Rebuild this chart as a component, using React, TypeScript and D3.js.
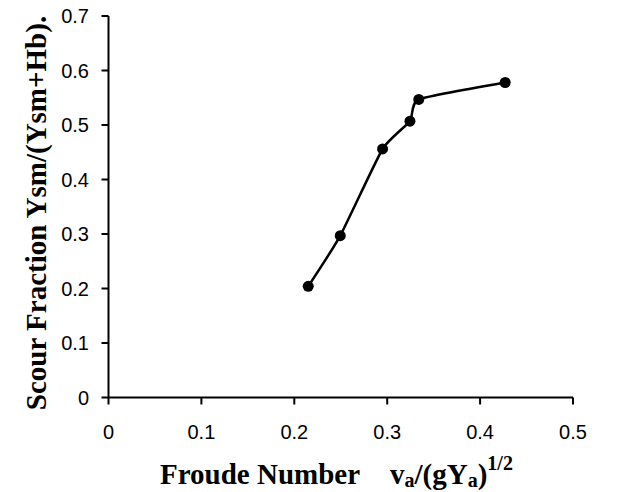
import React from 'react';
import * as d3 from 'd3';

const froude = [0.215, 0.2495, 0.295, 0.3245, 0.334, 0.427];
const scourFraction = [0.204, 0.297, 0.456, 0.507, 0.547, 0.578];
const xTicks = [0, 0.1, 0.2, 0.3, 0.4, 0.5];
const yTicks = [0, 0.1, 0.2, 0.3, 0.4, 0.5, 0.6, 0.7];

const W = 623;
const H = 492;

const App: React.FC = () => {
  const x = d3.scaleLinear().domain([0, 0.5]).range([108.5, 573]);
  const y = d3.scaleLinear().domain([0, 0.7]).range([397.5, 16]);

  const pts = froude.map((f, i) => [x(f), y(scourFraction[i])] as [number, number]);
  // smoothed line like the spreadsheet original
  const line = d3.line().curve(d3.curveCardinal.tension(0.5))(pts) || '';

  const tickFont = '"Liberation Sans", Arial, sans-serif';
  const titleFont = '"Liberation Serif", "Times New Roman", serif';

  return (
    <svg width={W} height={H} style={{ position: 'absolute', left: 0, top: 0, background: '#fff' }}>
      {/* axes */}
      <line x1={x(0)} x2={x(0)} y1={y(0.7)} y2={y(0)} stroke="#000" strokeWidth={2} />
      <line x1={x(0)} x2={x(0.5)} y1={y(0)} y2={y(0)} stroke="#000" strokeWidth={2} />
      {yTicks.map(t => (
        <g key={'y' + t}>
          <line x1={x(0) - 7} x2={x(0)} y1={y(t)} y2={y(t)} stroke="#000" strokeWidth={2} />
          <text x={89} y={y(t)} dy="0.36em" textAnchor="end" fontFamily={tickFont} fontSize={20}>
            {t === 0 ? '0' : t.toFixed(1)}
          </text>
        </g>
      ))}
      {xTicks.map(t => (
        <g key={'x' + t}>
          <line x1={x(t)} x2={x(t)} y1={y(0)} y2={y(0) + 7} stroke="#000" strokeWidth={2} />
          <text x={x(t)} y={439} textAnchor="middle" fontFamily={tickFont} fontSize={20}>
            {t === 0 ? '0' : t.toFixed(1)}
          </text>
        </g>
      ))}

      {/* series */}
      <path d={line} fill="none" stroke="#000" strokeWidth={2.5} />
      {pts.map((p, i) => (
        <circle key={i} cx={p[0]} cy={p[1]} r={5.5} fill="#000" />
      ))}

      {/* axis titles */}
      <text x={160} y={484} fontFamily={titleFont} fontSize={29} fontWeight="bold">
        Froude Number
      </text>
      <text x={390} y={484} fontFamily={titleFont} fontSize={29} fontWeight="bold">
        v<tspan fontSize={20} dy={3}>a</tspan>
        <tspan dy={-3}>/(gY</tspan>
        <tspan fontSize={20} dy={3}>a</tspan>
        <tspan dy={-3}>)</tspan>
        <tspan fontSize={20} dy={-14}>1/2</tspan>
      </text>
      <text
        transform={`translate(46,${213}) rotate(-90)`}
        textAnchor="middle"
        fontFamily={titleFont}
        fontSize={29}
        fontWeight="bold"
      >
        Scour Fraction Ysm/(Ysm+Hb).
      </text>
    </svg>
  );
};

export default App;
